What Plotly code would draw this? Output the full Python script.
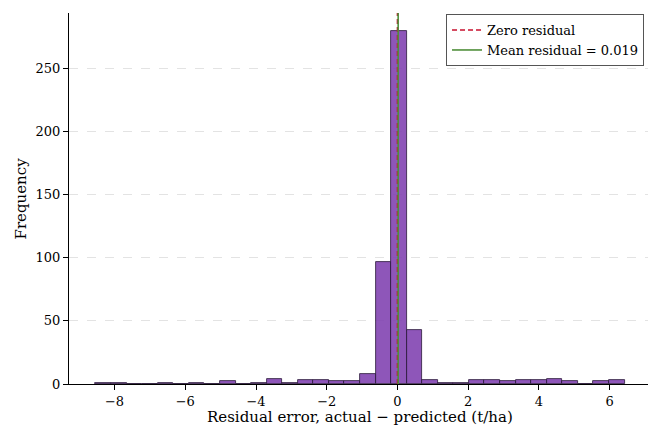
import numpy as np
import plotly.graph_objects as go

# Histogram of residuals (t/ha)
res_min = -8.54
res_max = 6.42
n_bins = 34
counts = [1, 1, 0, 0, 1, 0, 1, 0, 2, 0, 1, 4, 1, 3, 3, 2, 2, 8, 97, 280,
          43, 3, 1, 1, 3, 3, 2, 3, 3, 4, 2, 0, 2, 3]
mean_residual = 0.019
zero_residual = 0.0
x_ticks = [-8, -6, -4, -2, 0, 2, 4, 6]
y_ticks = [0, 50, 100, 150, 200, 250]
x_title = "Residual error, actual \u2212 predicted (t/ha)"
y_title = "Frequency"

edges = np.linspace(res_min, res_max, n_bins + 1)
centers = (edges[:-1] + edges[1:]) / 2
width = edges[1] - edges[0]

span = res_max - res_min
x_range = [res_min - 0.05 * span, res_max + 0.05 * span]
y_range = [0, max(counts) * 1.05]

font = "DejaVu Serif"

fig = go.Figure()
fig.add_trace(go.Bar(
    x=centers, y=counts, width=width,
    marker=dict(color="rgba(126,63,175,0.88)",
                line=dict(color="#2a1838", width=0.8)),
    showlegend=False, hoverinfo="x+y",
))

fig.add_shape(type="line", xref="x", yref="paper",
              x0=zero_residual, x1=zero_residual, y0=0, y1=1,
              line=dict(color="#c8102e", width=1.6, dash="5px,3px"),
              showlegend=True, name="Zero residual", legendrank=1)
fig.add_shape(type="line", xref="x", yref="paper",
              x0=mean_residual, x1=mean_residual, y0=0, y1=1,
              line=dict(color="#4f8f3a", width=1.6),
              showlegend=True, name=f"Mean residual = {mean_residual:.3f}",
              legendrank=2)

# axis titles
fig.add_annotation(text=x_title, xref="paper", yref="paper", x=0.5, y=0,
                   xanchor="center", yanchor="top", yshift=-23, borderpad=0,
                   showarrow=False, font=dict(family=font, size=15))
fig.add_annotation(text=y_title, xref="paper", yref="paper", x=0, y=0.5,
                   xanchor="center", yanchor="middle", xshift=-49,
                   textangle=-90, showarrow=False,
                   font=dict(family=font, size=15))

# page body has an 8px margin: figure is sized/margined to fit the 656x428 window
fig.update_layout(
    width=648, height=420,
    margin=dict(l=61, r=5, t=5, b=44, autoexpand=False),
    paper_bgcolor="white", plot_bgcolor="white",
    font=dict(family=font, size=13, color="black"),
    bargap=0,
    legend=dict(x=0.988, y=0.997, xanchor="right", yanchor="top",
                bgcolor="white", bordercolor="#555", borderwidth=1,
                font=dict(family=font, size=13),
                tracegroupgap=0, itemwidth=30),
)
fig.update_xaxes(
    range=x_range, tickvals=x_ticks,
    ticktext=[("\u2212" + str(-t)) if t < 0 else str(t) for t in x_ticks],
    showline=True, linecolor="black", linewidth=1.2,
    ticks="outside", ticklen=5, tickcolor="black",
    showgrid=False, zeroline=False, automargin=False,
    tickfont=dict(family=font, size=13),
)
fig.update_yaxes(
    range=y_range, tickvals=y_ticks,
    showline=True, linecolor="black", linewidth=1.2,
    ticks="outside", ticklen=5, tickcolor="black",
    showgrid=True, gridcolor="#e3e3e3", griddash="dash", gridwidth=0.8,
    zeroline=False, automargin=False,
    tickfont=dict(family=font, size=13),
)

fig.write_html("out.html")
